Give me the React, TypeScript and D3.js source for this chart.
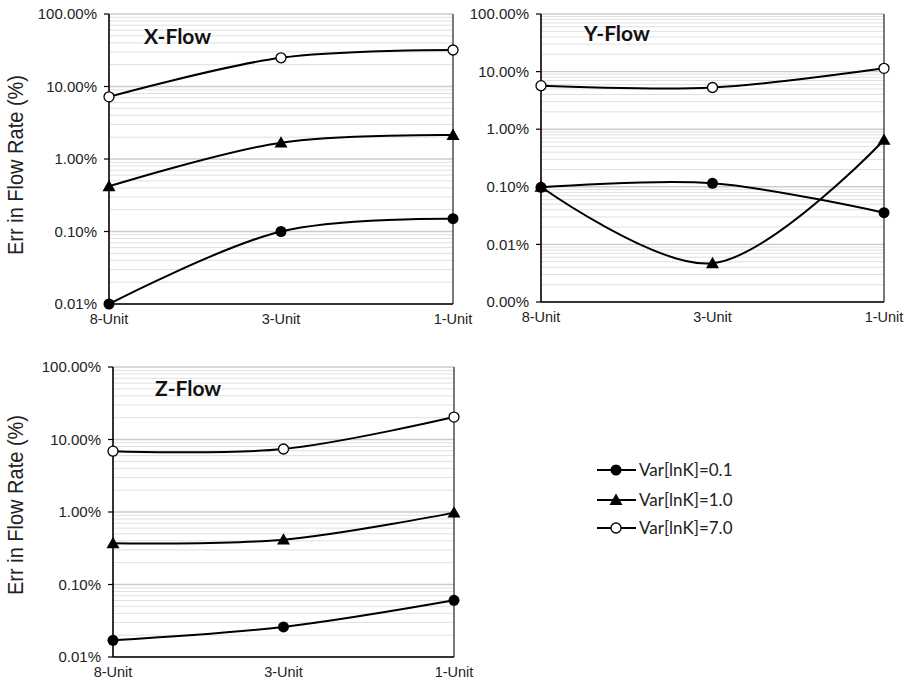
import React from "react";
import * as d3 from "d3";

const categories = ["8-Unit", "3-Unit", "1-Unit"];
const seriesNames = ["Var[lnK]=0.1", "Var[lnK]=1.0", "Var[lnK]=7.0"];
const markerTypes = ["filled", "triangle", "open"];

const xFlow01 = [0.01, 0.1, 0.15];
const xFlow10 = [0.42, 1.68, 2.14];
const xFlow70 = [7.2, 24.9, 31.9];

const yFlow01 = [0.098, 0.115, 0.0355];
const yFlow10 = [0.1, 0.0047, 0.65];
const yFlow70 = [5.7, 5.3, 11.4];

const zFlow01 = [0.017, 0.026, 0.0605];
const zFlow10 = [0.37, 0.415, 0.98];
const zFlow70 = [6.9, 7.4, 20.4];

const xTicks = [0.01, 0.1, 1, 10, 100];
const yTicks = [0.001, 0.01, 0.1, 1, 10, 100];
const zTicks = [0.01, 0.1, 1, 10, 100];

const panels = [
  { title: "X-Flow", series: [xFlow01, xFlow10, xFlow70], ticks: xTicks, left: 109, right: 453, top: 14, bottom: 304, tx: 35, ty: 30, yTitle: 165 },
  { title: "Y-Flow", series: [yFlow01, yFlow10, yFlow70], ticks: yTicks, left: 541, right: 884, top: 14, bottom: 302, tx: 43, ty: 27, yTitle: null },
  { title: "Z-Flow", series: [zFlow01, zFlow10, zFlow70], ticks: zTicks, left: 113, right: 454, top: 367, bottom: 657, tx: 42, ty: 29, yTitle: 505 },
];

const tickFont = "'Liberation Sans', Arial, sans-serif";
const calFont = "Lato, 'Open Sans', sans-serif";

function Marker({ type, x, y }: { type: string; x: number; y: number }) {
  if (type === "filled") return <circle cx={x} cy={y} r={5.5} fill="#000" />;
  if (type === "open") return <circle cx={x} cy={y} r={5} fill="#fff" stroke="#000" strokeWidth={1.3} />;
  const s = 6.5;
  return <path d={`M${x},${y - s}L${x + s},${y + s * 0.75}L${x - s},${y + s * 0.75}Z`} fill="#000" />;
}

function Panel({ p }: { p: typeof panels[number] }) {
  const dom = [p.ticks[0], p.ticks[p.ticks.length - 1]];
  const y = d3.scaleLog().domain(dom).range([p.bottom, p.top]);
  const x = d3.scalePoint().domain(categories).range([p.left, p.right]);
  const minors: number[] = [];
  for (let i = 0; i < p.ticks.length - 1; i++) {
    for (let k = 2; k <= 9; k++) minors.push(p.ticks[i] * k);
  }
  const line = d3
    .line<number>()
    .x((_, i) => x(categories[i]) as number)
    .y((d) => y(d))
    .curve(d3.curveCatmullRom.alpha(0.5));
  return (
    <g>
      {minors.map((m, i) => (
        <line key={"m" + i} x1={p.left} x2={p.right} y1={y(m)} y2={y(m)} stroke="#e0e0e0" strokeWidth={1} />
      ))}
      {p.ticks.map((t, i) => (
        <line key={"g" + i} x1={p.left} x2={p.right} y1={y(t)} y2={y(t)} stroke="#cbcbcb" strokeWidth={1.4} />
      ))}
      <line x1={p.right} x2={p.right} y1={p.top} y2={p.bottom} stroke="#333" strokeWidth={1.3} />
      <line x1={p.left} x2={p.left} y1={p.top} y2={p.bottom} stroke="#000" strokeWidth={1.6} />
      <line x1={p.left} x2={p.right} y1={p.bottom} y2={p.bottom} stroke="#000" strokeWidth={1.6} />
      {p.ticks.map((t, i) => (
        <g key={"t" + i}>
          <line x1={p.left - 5} x2={p.left} y1={y(t)} y2={y(t)} stroke="#000" strokeWidth={1.2} />
          <text x={p.left - 12} y={y(t)} dy="0.35em" textAnchor="end" fontFamily={tickFont} fontSize={15} fill="#222">
            {t.toFixed(2) + "%"}
          </text>
        </g>
      ))}
      {categories.map((c) => (
        <text key={c} x={x(c)} y={p.bottom + 20} textAnchor="middle" fontFamily={tickFont} fontSize={14.5} fill="#222">
          {c}
        </text>
      ))}
      {p.series.map((s, si) => (
        <path key={"l" + si} d={line(s) as string} fill="none" stroke="#000" strokeWidth={2} />
      ))}
      {p.series.map((s, si) =>
        s.map((v, i) => <Marker key={"mk" + si + "-" + i} type={markerTypes[si]} x={x(categories[i]) as number} y={y(v)} />)
      )}
      <text x={p.left + p.tx} y={p.top + p.ty} fontFamily={calFont} fontWeight={700} fontSize={21} fill="#111">
        {p.title}
      </text>
      {p.yTitle !== null && (
        <text
          transform={`translate(23,${p.yTitle}) rotate(-90)`}
          textAnchor="middle"
          fontFamily={tickFont}
          fontSize={21.5}
          textLength={180}
          lengthAdjust="spacingAndGlyphs"
          fill="#222"
        >
          Err in Flow Rate (%)
        </text>
      )}
    </g>
  );
}

export default function App() {
  const legendY = [470, 500, 528];
  return (
    <svg width={921} height={680} style={{ position: "absolute", left: 0, top: 0, background: "#fff" }}>
      <rect width={921} height={680} fill="#fff" />
      {panels.map((p) => (
        <Panel key={p.title} p={p} />
      ))}
      {seriesNames.map((n, i) => (
        <g key={n}>
          <line x1={597} x2={636} y1={legendY[i]} y2={legendY[i]} stroke="#000" strokeWidth={2} />
          <Marker type={markerTypes[i]} x={616} y={legendY[i]} />
          <text x={639} y={legendY[i]} dy="0.35em" fontFamily={calFont} fontSize={17} fill="#222">
            {n}
          </text>
        </g>
      ))}
    </svg>
  );
}
